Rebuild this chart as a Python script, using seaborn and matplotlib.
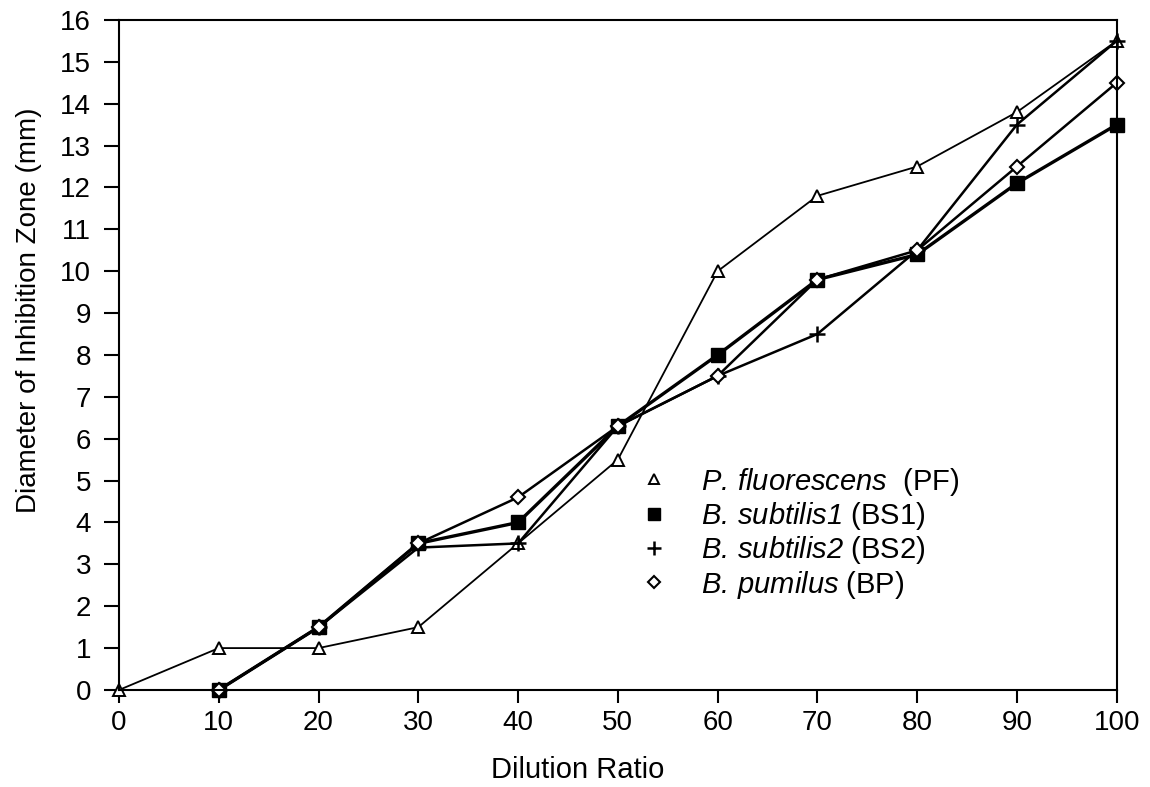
import numpy as np
import pandas as pd
import matplotlib
matplotlib.use("Agg")
import matplotlib.pyplot as plt
from matplotlib.lines import Line2D
import seaborn as sns

# values
dilution = [0, 10, 20, 30, 40, 50, 60, 70, 80, 90, 100]
pf = [0, 1.0, 1.0, 1.5, 3.5, 5.5, 10.0, 11.8, 12.5, 13.8, 15.5]
bs1 = [None, 0, 1.5, 3.5, 4.0, 6.3, 8.0, 9.8, 10.4, 12.1, 13.5]
bs2 = [None, 0, 1.5, 3.4, 3.5, 6.3, 7.5, 8.5, 10.5, 13.5, 15.5]
bp = [None, 0, 1.5, 3.5, 4.6, 6.3, 7.5, 9.8, 10.5, 12.5, 14.5]

labels = [r"$P.\,fluorescens$  (PF)",
          r"$B.\,subtilis1$ (BS1)",
          r"$B.\,subtilis2$ (BS2)",
          r"$B.\,pumilus$ (BP)"]

sns.set_style("white")
plt.rcParams["font.family"] = ["Liberation Sans", "DejaVu Sans"]
plt.rcParams["mathtext.fontset"] = "custom"
plt.rcParams["mathtext.it"] = "Liberation Sans:italic"
plt.rcParams["mathtext.rm"] = "Liberation Sans:italic"
plt.rcParams["text.color"] = "black"
plt.rcParams["axes.labelcolor"] = "black"
plt.rcParams["xtick.color"] = "black"
plt.rcParams["ytick.color"] = "black"

fig = plt.figure(figsize=(11.5, 7.87), dpi=100)
ax = fig.add_axes([0.1035, 0.1233, 0.8675, 0.8513])

styles = [
    dict(marker="^", markersize=8.5, markerfacecolor="white", markeredgewidth=1.4, linewidth=1.3),
    dict(marker="s", markersize=9.5, markerfacecolor="black", markeredgewidth=1.0, linewidth=2.4),
    dict(marker="+", markersize=11, markeredgewidth=1.8, linewidth=1.8),
    dict(marker="D", markersize=7, markerfacecolor="white", markeredgewidth=1.5, linewidth=1.8),
]

for ys, st in zip([pf, bs1, bs2, bp], styles):
    df = pd.DataFrame({"x": dilution, "y": ys}).dropna()
    sns.lineplot(data=df, x="x", y="y", ax=ax, color="black",
                 markeredgecolor="black", clip_on=False, **st)

ax.set_xlim(0, 100)
ax.set_ylim(0, 16)
ax.set_xticks(range(0, 101, 10))
ax.set_yticks(range(0, 17))
ax.tick_params(axis="both", direction="out", width=1.5, labelsize=20,
               bottom=True, left=True, top=False, right=False)
ax.tick_params(axis="y", length=11, pad=9)
ax.tick_params(axis="x", length=9.5, pad=5)
for sp in ax.spines.values():
    sp.set_color("black")
    sp.set_linewidth(1.5)
ax.set_xlabel("Dilution Ratio", fontsize=21, va="top")
ax.xaxis.set_label_coords(0.46, -0.098)
ax.set_ylabel("Diameter of Inhibition Zone (mm)", fontsize=20)
ax.yaxis.set_label_coords(-0.077, 0.567)

# legend: markers only, no lines
handles = []
for st in styles:
    kw = {k: v for k, v in st.items() if k != "linewidth"}
    kw["markersize"] = kw["markersize"] * 0.9
    handles.append(Line2D([], [], linestyle="none", color="black",
                          markeredgecolor="black", **kw))
ax.legend(handles, labels, loc="upper left", bbox_to_anchor=(0.525, 0.335),
          frameon=False, fontsize=21, handlelength=0.8, handletextpad=1.2,
          labelspacing=0.08, borderpad=0, borderaxespad=0)

fig.savefig("out.png", dpi=100)
